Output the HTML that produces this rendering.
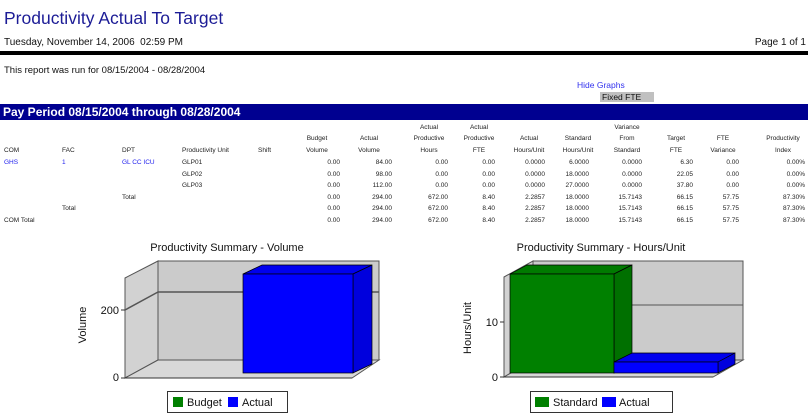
<!DOCTYPE html>
<html><head><style>
body{margin:0;width:812px;height:418px;background:#fff;font-family:"Liberation Sans",Arial,sans-serif;position:relative;overflow:hidden}
.a{position:absolute;white-space:nowrap}
.t{font-size:6.5px;color:#222}
.r{text-align:right}
.c{text-align:center}
.l{color:#2222ee}
</style></head><body>
<div class="a" style="left:4px;top:8px;font-size:17.5px;color:#1c1c96">Productivity Actual To Target</div>
<div class="a" style="left:4px;top:37px;font-size:10px;color:#111">Tuesday, November 14, 2006&nbsp; 02:59 PM</div>
<div class="a" style="right:6px;top:37px;font-size:10px;color:#111">Page 1 of 1</div>
<div class="a" style="left:0;top:51px;width:808px;height:4px;background:#000"></div>
<div class="a" style="left:4px;top:65px;font-size:9.5px;color:#111">This report was run for 08/15/2004 - 08/28/2004</div>
<div class="a" style="left:577px;top:80px;font-size:8.5px;color:#3333ee">Hide Graphs</div>
<div class="a" style="left:600px;top:92px;width:52px;height:10px;background:#c0c0c0;font-size:8.5px;color:#111;line-height:10px;padding-left:2px">Fixed FTE</div>
<div class="a" style="left:0;top:104px;width:808px;height:16px;background:#000090;color:#fff;font-weight:bold;font-size:12px;line-height:16px;padding-left:3px;box-sizing:border-box">Pay Period 08/15/2004 through 08/28/2004</div>

<div id="tbl"></div>
<script>
var h='';
function T(x,y,s,cls,extra){h+='<div class="a t '+(cls||'')+'" style="left:'+x+'px;top:'+y+'px;'+(extra||'')+'">'+s+'</div>';}
function R(xr,y,s,cls){h+='<div class="a t r '+(cls||'')+'" style="left:'+(xr-60)+'px;width:60px;top:'+y+'px">'+s+'</div>';}
function C(xc,y,s){h+='<div class="a t c" style="left:'+(xc-40)+'px;width:80px;top:'+y+'px">'+s+'</div>';}
T(4,147,'COM');T(62,147,'FAC');T(122,147,'DPT');T(182,147,'Productivity Unit');T(258,147,'Shift');
C(317,135,'Budget');C(317,147,'Volume');
C(369,135,'Actual');C(369,147,'Volume');
C(429,124,'Actual');C(429,135,'Productive');C(429,147,'Hours');
C(479,124,'Actual');C(479,135,'Productive');C(479,147,'FTE');
C(529,135,'Actual');C(529,147,'Hours/Unit');
C(578,135,'Standard');C(578,147,'Hours/Unit');
C(627,124,'Variance');C(627,135,'From');C(627,147,'Standard');
C(676,135,'Target');C(676,147,'FTE');
C(723,135,'FTE');C(723,147,'Variance');
C(783,135,'Productivity');C(783,147,'Index');
var rows=[
['0.00','84.00','0.00','0.00','0.0000','6.0000','0.0000','6.30','0.00','0.00%'],
['0.00','98.00','0.00','0.00','0.0000','18.0000','0.0000','22.05','0.00','0.00%'],
['0.00','112.00','0.00','0.00','0.0000','27.0000','0.0000','37.80','0.00','0.00%'],
['0.00','294.00','672.00','8.40','2.2857','18.0000','15.7143','66.15','57.75','87.30%'],
['0.00','294.00','672.00','8.40','2.2857','18.0000','15.7143','66.15','57.75','87.30%'],
['0.00','294.00','672.00','8.40','2.2857','18.0000','15.7143','66.15','57.75','87.30%']];
var xr=[340,392,448,495,545,589,642,693,739,805];
for(var i=0;i<6;i++){var y=159+i*11.6;for(var j=0;j<10;j++)R(xr[j],y,rows[i][j]);}
T(4,159,'GHS','l');T(62,159,'1','l');T(122,159,'GL CC ICU','l');
T(182,159,'GLP01');T(182,170.6,'GLP02');T(182,182.2,'GLP03');
T(122,193.8,'Total');T(62,205.4,'Total');T(4,217,'COM Total');
document.getElementById('tbl').innerHTML=h;
</script>

<svg class="a" style="left:0;top:0" width="812" height="418" font-family="Liberation Sans, Arial, sans-serif">
<text x="227" y="251" font-size="11" text-anchor="middle" fill="#111">Productivity Summary - Volume</text>
<polygon points="158,261 379,261 379,360 158,360" fill="#cbcbcb" stroke="#555" stroke-width="1"/>
<polygon points="125,278 158,261 158,360 125,378" fill="#d2d2d2" stroke="#555"/>
<polygon points="125,378 158,360 379,360 352,378" fill="#d8d8d8" stroke="#555"/>
<line x1="158" y1="292" x2="379" y2="292" stroke="#555" stroke-width="1.5"/>
<line x1="125" y1="310" x2="158" y2="292" stroke="#555" stroke-width="1.5"/>
<line x1="121" y1="310" x2="125" y2="310" stroke="#333"/>
<line x1="121" y1="378" x2="125" y2="378" stroke="#333"/>
<line x1="125" y1="378" x2="352" y2="378" stroke="#333"/>
<text x="119" y="314" font-size="11" text-anchor="end" fill="#111">200</text>
<text x="119" y="381" font-size="11" text-anchor="end" fill="#111">0</text>
<text transform="translate(86,325) rotate(-90)" font-size="11" text-anchor="middle" fill="#111">Volume</text>
<polygon points="243,274 262,265 372,265 353,274" fill="#0000ee" stroke="#000" stroke-width="0.7"/>
<polygon points="353,274 372,265 372,364 353,373" fill="#0000dd" stroke="#000" stroke-width="0.7"/>
<rect x="243" y="274" width="110" height="99" fill="#0000ff" stroke="#000" stroke-width="0.7"/>
<rect x="167.5" y="391.5" width="120" height="21" fill="#fff" stroke="#333"/>
<rect x="173" y="397" width="10" height="10" fill="#008000"/>
<text x="187" y="406" font-size="11" fill="#111">Budget</text>
<rect x="228" y="397" width="10" height="10" fill="#0000ff"/>
<text x="242" y="406" font-size="11" fill="#111">Actual</text>

<text x="601" y="251" font-size="11" text-anchor="middle" fill="#111">Productivity Summary - Hours/Unit</text>
<polygon points="533,261 743,261 743,360 533,360" fill="#cbcbcb" stroke="#555"/>
<polygon points="504,277 533,261 533,360 504,377" fill="#d2d2d2" stroke="#555"/>
<polygon points="504,377 533,360 743,360 713,377" fill="#d8d8d8" stroke="#555"/>
<line x1="533" y1="305" x2="743" y2="305" stroke="#555" stroke-width="1"/>
<line x1="500" y1="322" x2="504" y2="322" stroke="#333"/>
<line x1="500" y1="377" x2="504" y2="377" stroke="#333"/>
<line x1="504" y1="377" x2="713" y2="377" stroke="#333"/>
<text x="498" y="326" font-size="11" text-anchor="end" fill="#111">10</text>
<text x="498" y="381" font-size="11" text-anchor="end" fill="#111">0</text>
<text transform="translate(471,328) rotate(-90)" font-size="11" text-anchor="middle" fill="#111">Hours/Unit</text>
<polygon points="510,274 527,265 632,265 614,274" fill="#007a00" stroke="#000" stroke-width="0.7"/>
<polygon points="614,274 632,265 632,364 614,373" fill="#007000" stroke="#000" stroke-width="0.7"/>
<rect x="510" y="274" width="104" height="99" fill="#008000" stroke="#000" stroke-width="0.7"/>
<polygon points="614,362 632,353 735,353 718,362" fill="#0000ee" stroke="#000" stroke-width="0.7"/>
<polygon points="718,362 735,353 735,364 718,373" fill="#0000dd" stroke="#000" stroke-width="0.7"/>
<rect x="614" y="362" width="104" height="11" fill="#0000ff" stroke="#000" stroke-width="0.7"/>
<rect x="530.5" y="391.5" width="142" height="21" fill="#fff" stroke="#333"/>
<rect x="535" y="397" width="14" height="10" fill="#008000"/>
<text x="553" y="406" font-size="11" fill="#111">Standard</text>
<rect x="602" y="397" width="14" height="10" fill="#0000ff"/>
<text x="619" y="406" font-size="11" fill="#111">Actual</text>
</svg>
</body></html>
